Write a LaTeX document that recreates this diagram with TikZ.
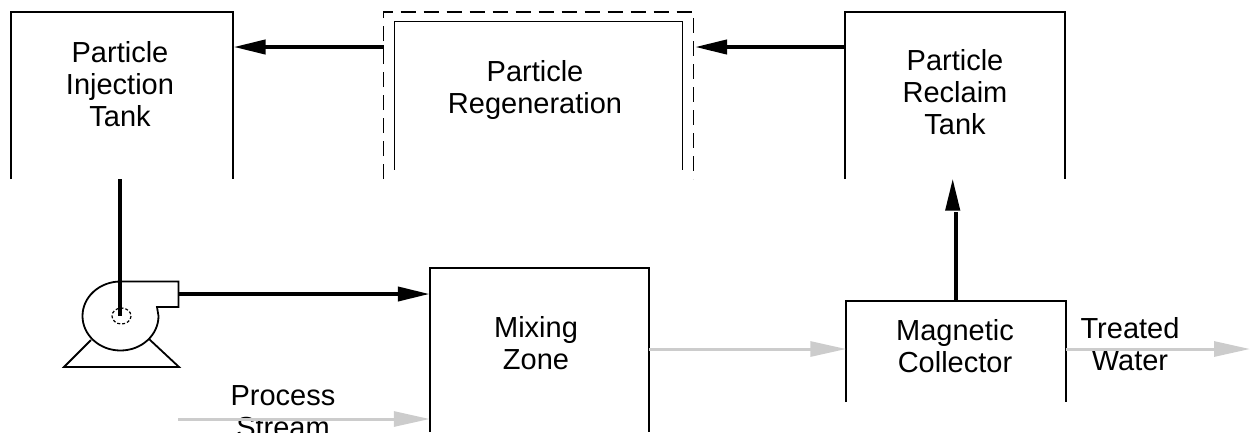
\documentclass[tikz,border=0pt]{standalone}
\usepackage{fontspec}
\setmainfont{Liberation Sans}
\usetikzlibrary{arrows.meta}

\begin{document}
\begin{tikzpicture}[x=1pt, y=-1pt, node distance={416.5pt},
	main/.style = {inner sep=0pt, outer sep=0pt, minimum width=219.5pt, minimum height=167pt},
	txt/.style = {font=\fontsize{29}{32}\selectfont, align=center, inner sep=0pt},
	wall/.style = {line width=1.8pt},
	black line/.style = {line width=4pt, -{Triangle[length=32pt, width=14pt]}},
	grey line/.style = {line width=3pt, color=black!20, -{Triangle[length=36pt, width=15pt]}}]
	\useasboundingbox (0,0) rectangle (1252,432);
	\node[main, minimum width=222pt] (inj) at (122,95.5) {};
	\node[main, minimum width=310pt] (regen) [right of=inj] {};
	\node[main, minimum width=288pt, minimum height=148pt] (regenin) at (regen.center) {};
	\node[main] (reclaim) [right of=regen] {};
	\node[main, minimum height=164pt] (mix) at (539.5,350) {};
	\node[main, minimum height=101pt, yshift=-1.5pt] (mag) [right of=mix] {};
	\node[txt] (injtxt) at (120,84) {Particle\\Injection\\Tank};
	\node[txt] (regentxt) at (535,90) {Particle\\Regeneration};
	\node[txt] (reclaimtxt) at (955,92) {Particle\\Reclaim\\Tank};
	\node[txt] (mixtxt) at (536,343) {Mixing\\Zone};
	\node[txt] (magtxt) at (955,346) {Magnetic\\Collector};
	\node[txt] (treatedtxt) at (1130,344) {Treated\\Water};
	\node[txt] (processtxt) at (283,412) {Process\\Stream};
	\coordinate (pumpc) at (121.5,316);
	\coordinate (pumpout) at (178.5,294);
	\coordinate (pumpin) at (120,316);
	\coordinate (injout) at (120,179);
	\coordinate (procin) at (178,419);
	\coordinate (mixin) at (mix.west |- pumpout);
	\coordinate (mixin2) at (mix.west |- procin);
	\coordinate (shaftend) at (955.5,212);
	\coordinate (headbase) at (952.7,208);
	\coordinate (headtip) at (952.7,178.5);
	\coordinate (treatedend) at (1250,349);
	\draw[wall] (inj.south west) -- (inj.north west) -- (inj.north east) -- (inj.south east);
	\draw[wall, dash pattern=on 15pt off 8pt] (regen.south west) -- (regen.north west) -- (regen.north east) -- (regen.south east);
	\draw[wall] (regenin.south west) -- (regenin.north west) -- (regenin.north east) -- (regenin.south east);
	\draw[wall] (reclaim.south west) -- (reclaim.north west) -- (reclaim.north east) -- (reclaim.south east);
	\draw[wall] (mix.south west) -- (mix.north west) -- (mix.north east) -- (mix.south east);
	\draw[wall] (mag.south west) -- (mag.north west) -- (mag.north east) -- (mag.south east);
	% pump
	\draw[wall] (120.5,281.5) arc[start angle=-90, end angle=-360, x radius=38, y radius=34.5] -- (157,307) -- (178.5,307) -- (178.5,281.5) -- cycle;
	\draw[wall, densely dashed, line width=1.2pt] (pumpc) ellipse[x radius=9.5, y radius=8];
	\draw[wall] (91,340) -- (64,367) -- (179,367) -- (149,339);
	\draw[line width=4pt] (injout) -- (pumpin);
	\draw[black line] (pumpout) -- (mixin);
	\draw[black line] (regen.west |- 0,47) -- (233.5,47);
	\draw[black line] (reclaim.west |- 0,47) -- (695,47);
	\draw[line width=4pt] (mag.north -| shaftend) -- (shaftend);
	\draw[black line] (headbase) -- (headtip);
	\draw[grey line] (procin) -- (mixin2);
	\draw[grey line] (mix.east |- 0,349) -- (mag.west |- 0,349);
	\draw[grey line] (mag.east |- treatedend) -- (treatedend);
\end{tikzpicture}
\end{document}
